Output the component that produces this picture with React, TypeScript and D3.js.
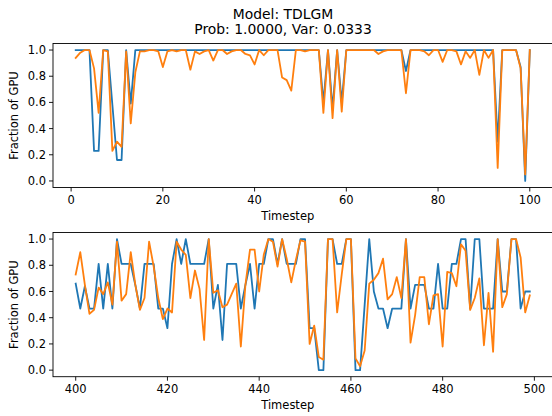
import React from "react";
import * as d3 from "d3";

const titleLines = ["Model: TDLGM", "Prob: 1.0000, Var: 0.0333"];
const xLabel = "Timestep";
const yLabel = "Fraction of GPU";

// Top panel: timesteps 1..100
const topStart = 1;
const topBlue = [
  1.0, 1.0, 1.0, 1.0, 0.23, 0.23, 1.0, 1.0, 0.58, 0.16,
  0.16, 1.0, 0.59, 1.0, 1.0, 1.0, 1.0, 1.0, 1.0, 1.0,
  1.0, 1.0, 1.0, 1.0, 1.0, 1.0, 1.0, 1.0, 1.0, 1.0,
  1.0, 1.0, 1.0, 1.0, 1.0, 1.0, 1.0, 1.0, 1.0, 1.0,
  1.0, 1.0, 1.0, 1.0, 1.0, 1.0, 1.0, 1.0, 1.0, 1.0,
  1.0, 1.0, 1.0, 1.0, 0.6, 1.0, 0.55, 1.0, 0.6, 1.0,
  1.0, 1.0, 1.0, 1.0, 1.0, 1.0, 1.0, 1.0, 1.0, 1.0,
  1.0, 1.0, 0.84, 1.0, 1.0, 1.0, 1.0, 1.0, 1.0, 1.0,
  1.0, 1.0, 1.0, 1.0, 1.0, 1.0, 1.0, 1.0, 1.0, 1.0,
  1.0, 1.0, 0.3, 1.0, 1.0, 1.0, 1.0, 0.87, 0.0, 1.0,
];
const topOrange = [
  0.94, 0.98, 1.0, 1.0, 0.86, 0.52, 1.0, 0.99, 0.23, 0.3,
  0.26, 0.99, 0.44, 0.83, 0.99, 0.99, 1.0, 1.0, 0.99, 0.87,
  0.99, 1.0, 0.99, 1.0, 1.0, 0.85, 0.99, 0.97, 0.99, 1.0,
  0.92, 1.0, 1.0, 0.97, 0.99, 1.0, 1.0, 0.97, 0.96, 0.89,
  1.0, 0.96, 1.0, 1.0, 1.0, 0.79, 0.77, 0.69, 1.0, 1.0,
  0.99, 1.0, 1.0, 1.0, 0.52, 1.0, 0.48, 1.0, 0.53, 1.0,
  1.0, 1.0, 1.0, 1.0, 1.0, 1.0, 0.97, 0.99, 1.0, 1.0,
  1.0, 1.0, 0.67, 1.0, 1.0, 1.0, 0.99, 0.96, 1.0, 1.0,
  0.91, 1.0, 1.0, 0.99, 0.89, 0.99, 0.94, 1.0, 0.81, 1.0,
  0.94, 1.0, 0.1, 1.0, 1.0, 1.0, 1.0, 0.86, 0.05, 1.0,
];

// Bottom panel: timesteps 400..499
const botStart = 400;
const botBlue = [
  0.66, 0.47, 0.64, 0.47, 0.47, 0.81, 0.47, 0.81, 0.47, 1.0,
  0.81, 0.81, 0.81, 0.65, 0.47, 0.81, 0.81, 0.81, 0.47, 0.47,
  0.32, 0.81, 1.0, 0.81, 1.0, 0.81, 0.81, 0.81, 0.81, 1.0,
  0.47, 0.65, 0.23, 0.81, 0.81, 0.81, 0.47, 0.65, 0.81, 0.47,
  0.81, 0.81, 1.0, 1.0, 0.81, 1.0, 0.81, 0.81, 0.81, 1.0,
  1.0, 0.32, 0.32, 0.0, 0.0, 1.0, 1.0, 0.81, 0.81, 1.0,
  1.0, 0.0, 0.0, 0.5, 1.0, 0.6, 0.47, 0.47, 0.32, 0.47,
  0.47, 0.47, 1.0, 0.47, 0.65, 0.65, 0.65, 0.47, 0.47, 0.81,
  0.47, 0.47, 0.81, 0.81, 1.0, 1.0, 0.47, 1.0, 1.0, 0.47,
  0.47, 0.47, 1.0, 0.6, 0.6, 1.0, 1.0, 0.47, 0.6, 0.6,
];
const botOrange = [
  0.73, 0.9, 0.65, 0.43, 0.46, 0.63, 0.58, 0.67, 0.5, 0.98,
  0.53, 0.58, 0.9, 0.65, 0.46, 0.55, 0.98, 0.79, 0.55, 0.39,
  0.47, 0.44, 0.98, 0.92, 0.88, 0.55, 0.76, 0.62, 0.23, 1.0,
  0.59, 0.61, 0.48, 0.5, 0.58, 0.66, 0.18, 0.65, 0.92, 0.92,
  0.6, 0.88, 1.0, 0.98, 0.79, 1.0, 0.85, 0.67, 0.84, 0.99,
  0.98, 0.2, 0.34, 0.1, 0.08, 1.0, 1.0, 0.44, 0.73, 1.0,
  1.0, 0.09, 0.03, 0.15, 0.66, 0.69, 0.74, 0.85, 0.54, 0.58,
  0.71, 0.55, 1.0, 0.21, 0.42, 0.71, 0.71, 0.35, 0.57, 0.58,
  0.18, 0.75, 0.74, 0.64, 0.96, 0.91, 0.46, 0.55, 0.7, 0.19,
  0.59, 0.14, 1.0, 0.48, 0.58, 1.0, 1.0, 0.86, 0.44, 0.57,
];

const topXTicks = [0, 20, 40, 60, 80, 100];
const botXTicks = [400, 420, 440, 460, 480, 500];
const yTicks = [0.0, 0.2, 0.4, 0.6, 0.8, 1.0];

const BLUE = "#1f77b4";
const ORANGE = "#ff7f0e";
const FONT = "DejaVu Sans, sans-serif";

type PanelProps = {
  start: number;
  blue: number[];
  orange: number[];
  xTicks: number[];
  top: number;
  bottom: number;
};

function Panel({ start, blue, orange, xTicks, top, bottom }: PanelProps) {
  const left = 53;
  const right = 552.5;
  const n = blue.length;
  const span = n - 1;
  const pad = span * 0.05;
  const x = d3
    .scaleLinear()
    .domain([start - pad, start + span + pad])
    .range([left, right]);
  const y = d3.scaleLinear().domain([-0.05, 1.05]).range([bottom, top]);
  const line = d3
    .line<number>()
    .x((_, i) => x(start + i))
    .y((v) => y(v));
  return (
    <g>
      <rect x={left} y={top} width={right - left} height={bottom - top} fill="white" />
      <path d={line(blue) || ""} fill="none" stroke={BLUE} strokeWidth={1.8} strokeLinejoin="round" strokeLinecap="square" />
      <path d={line(orange) || ""} fill="none" stroke={ORANGE} strokeWidth={1.8} strokeLinejoin="round" strokeLinecap="square" />
      <rect x={left} y={top} width={right - left} height={bottom - top} fill="none" stroke="#000" strokeWidth={0.9} />
      {xTicks.map((t) => (
        <g key={t} transform={`translate(${x(t)},${bottom})`}>
          <line y2={4} stroke="#000" strokeWidth={0.9} />
          <text y={16} textAnchor="middle" fontSize={11.5} fontFamily={FONT} fill="#000">
            {t}
          </text>
        </g>
      ))}
      {yTicks.map((t) => (
        <g key={t} transform={`translate(${left},${y(t)})`}>
          <line x2={-4} stroke="#000" strokeWidth={0.9} />
          <text x={-7} dy="0.35em" textAnchor="end" fontSize={11.5} fontFamily={FONT} fill="#000">
            {t.toFixed(1)}
          </text>
        </g>
      ))}
      <text x={(left + right) / 2 - 15} y={bottom + 32} textAnchor="middle" fontSize={11.5} fontFamily={FONT} fill="#000">
        {xLabel}
      </text>
      <text
        transform={`translate(18,${(top + bottom) / 2}) rotate(-90)`}
        textAnchor="middle"
        fontSize={11.5}
        fontFamily={FONT}
        fill="#000"
      >
        {yLabel}
      </text>
    </g>
  );
}

export default function App() {
  return (
    <div style={{ position: "absolute", left: 0, top: 0 }}>
      <svg width={552} height={416} style={{ display: "block", background: "white" }}>
        <rect width={552} height={416} fill="white" />
        <text x={283} y={19} textAnchor="middle" fontSize={13.9} fontFamily={FONT} fill="#000">
          {titleLines[0]}
        </text>
        <text x={283} y={34} textAnchor="middle" fontSize={13.9} fontFamily={FONT} fill="#000">
          {titleLines[1]}
        </text>
        <Panel start={topStart} blue={topBlue} orange={topOrange} xTicks={topXTicks} top={43.5} bottom={187.5} />
        <Panel start={botStart} blue={botBlue} orange={botOrange} xTicks={botXTicks} top={232.5} bottom={376.7} />
      </svg>
    </div>
  );
}
